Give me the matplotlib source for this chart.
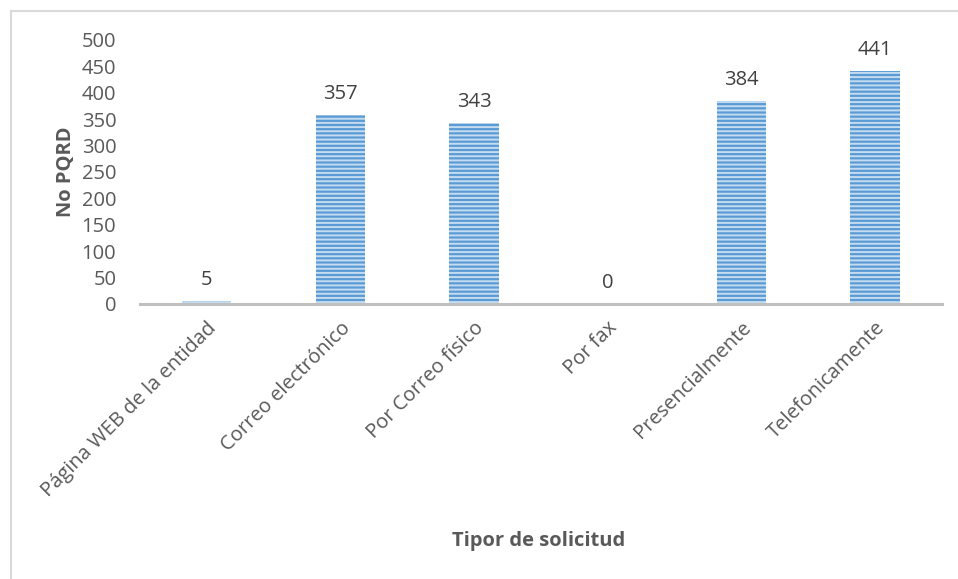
import matplotlib
matplotlib.use("Agg")
import matplotlib.pyplot as plt
from matplotlib.lines import Line2D

# Solicitudes (PQRD) recibidas por canal
tipos = ["Página WEB de la entidad", "Correo electrónico", "Por Correo físico",
         "Por fax", "Presencialmente", "Telefonicamente"]
cantidades = [5, 357, 343, 0, 384, 441]
marcas_y = [0, 50, 100, 150, 200, 250, 300, 350, 400, 450, 500]

COLOR_BARRA = "#5B9BD5"
COLOR_RAYAS = "#C5DCF0"
COLOR_TEXTO = "#595959"
TAM = 14.5

plt.rcParams["font.family"] = ["Open Sans", "DejaVu Sans"]
plt.rcParams["hatch.linewidth"] = 1.4

figura = plt.figure(figsize=(9.58, 5.79), dpi=100)
ejes = figura.add_axes([0.146, 0.475, 0.837, 0.456])

posiciones = range(len(tipos))
barras = ejes.bar(posiciones, cantidades, width=0.37, color=COLOR_BARRA,
                  edgecolor=COLOR_RAYAS, linewidth=0, hatch="----")
for barra in barras:
    barra._hatch_color = matplotlib.colors.to_rgba(COLOR_RAYAS)

for x, valor in zip(posiciones, cantidades):
    ejes.annotate(str(valor), (x, valor), xytext=(0, 8), textcoords="offset points",
                  ha="center", va="bottom", fontsize=TAM, color="#404040")

ejes.set_xlim(-0.5, len(tipos) - 0.5)
ejes.set_ylim(0, 500)
ejes.set_yticks(marcas_y)
ejes.set_xticks(list(posiciones))
ejes.set_xticklabels(tipos, rotation=45, ha="right", rotation_mode="anchor")
ejes.tick_params(axis="both", length=0, labelsize=TAM, colors=COLOR_TEXTO)
ejes.tick_params(axis="x", pad=10)
ejes.tick_params(axis="y", pad=17)

for lado in ["top", "right", "left"]:
    ejes.spines[lado].set_visible(False)
ejes.spines["bottom"].set_color("#BFBFBF")
ejes.spines["bottom"].set_linewidth(2.2)

ejes.set_ylabel("No PQRD", fontsize=TAM, fontweight="bold", color=COLOR_TEXTO, labelpad=4)
figura.text(0.562, 0.065, "Tipor de solicitud", ha="center", va="center",
            fontsize=TAM, fontweight="bold", color=COLOR_TEXTO)

# Marco exterior gris (solo borde superior e izquierdo visibles)
figura.add_artist(Line2D([0.011, 1.0], [0.981, 0.981], transform=figura.transFigure,
                         color="#D9D9D9", linewidth=1.5))
figura.add_artist(Line2D([0.011, 0.011], [0.0, 0.981], transform=figura.transFigure,
                         color="#D9D9D9", linewidth=1.5))

figura.savefig("out.png", dpi=100, facecolor="white")
